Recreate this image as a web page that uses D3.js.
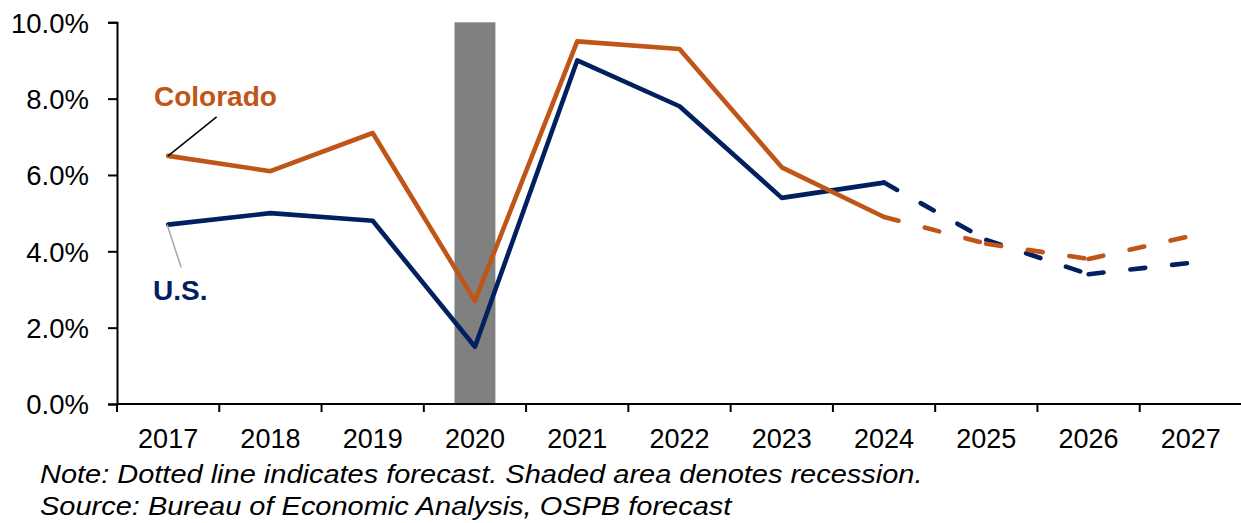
<!DOCTYPE html>
<html>
<head>
<meta charset="utf-8">
<script src="https://cdn.jsdelivr.net/npm/d3@7"></script>
<style>
  html, body { margin: 0; padding: 0; background: #ffffff; }
  svg { display: block; }
  text { font-family: "Liberation Sans", Arial, Helvetica, sans-serif; }
</style>
</head>
<body>
<svg id="chart" width="1241" height="523"></svg>
<script>
// Annual personal income growth, Colorado vs. U.S. (2024 onward is forecast)
const years = ["2017", "2018", "2019", "2020", "2021", "2022", "2023", "2024", "2025", "2026", "2027"];
const coloradoGrowth = [6.5, 6.1, 7.1, 2.7, 9.5, 9.3, 6.2, 4.9, 4.2, 3.8, 4.4];
const usGrowth = [4.7, 5.0, 4.8, 1.5, 9.0, 7.8, 5.4, 5.8, 4.3, 3.4, 3.7];
const yTickValues = [0, 2, 4, 6, 8, 10];
const forecastFrom = "2024";
const recessionYears = ["2020"];
const noteLines = [
  "Note: Dotted line indicates forecast. Shaded area denotes recession.",
  "Source: Bureau of Economic Analysis, OSPB forecast"
];

const COLORS = { colorado: "#BF5516", us: "#002060", recession: "#808080", axis: "#000000" };

const svg = d3.select("#chart");
const plot = { left: 117, right: 1242, top: 22.3, bottom: 404 };

const x = d3.scaleBand().domain(years).range([plot.left, plot.right]).padding(0);
const cx = d => x(d) + x.bandwidth() / 2;
const y = d3.scaleLinear().domain([0, 10]).range([plot.bottom, plot.top]);

// Recession shading
svg.append("g")
  .selectAll("rect")
  .data(recessionYears)
  .join("rect")
  .attr("x", d => x(d) + x.bandwidth() * 0.3)
  .attr("width", x.bandwidth() * 0.4)
  .attr("y", y(10))
  .attr("height", y(0) - y(10))
  .attr("fill", COLORS.recession);

// Y axis
const yAxis = svg.append("g")
  .attr("transform", `translate(${plot.left},0)`)
  .call(d3.axisLeft(y).tickValues(yTickValues).tickSize(9).tickPadding(19)
    .tickFormat(d => d.toFixed(1) + "%"));
yAxis.select(".domain").attr("stroke", COLORS.axis).attr("stroke-width", 2);
yAxis.selectAll(".tick line").attr("stroke", COLORS.axis).attr("stroke-width", 2);
yAxis.selectAll(".tick text")
  .attr("font-size", 27.5)
  .attr("fill", "#000")
  .attr("dy", "0.36em")
  .style("font-family", '"Liberation Sans", Arial, sans-serif');

// X axis: ticks sit on the category boundaries
const xAxisG = svg.append("g").attr("transform", `translate(0,${plot.bottom})`);
xAxisG.append("line")
  .attr("x1", plot.left).attr("x2", plot.right)
  .attr("stroke", COLORS.axis).attr("stroke-width", 2.2);
const boundaries = years.map(d => x(d)).concat([x(years[years.length - 1]) + x.bandwidth()]);
xAxisG.selectAll("line.tick")
  .data(boundaries)
  .join("line")
  .attr("class", "tick")
  .attr("x1", d => d).attr("x2", d => d)
  .attr("y1", 0).attr("y2", 8)
  .attr("stroke", COLORS.axis).attr("stroke-width", 2);
xAxisG.selectAll("text")
  .data(years)
  .join("text")
  .attr("x", d => cx(d))
  .attr("y", 44)
  .attr("text-anchor", "middle")
  .attr("font-size", 27)
  .attr("fill", "#000")
  .text(d => d);

// Series lines: solid for actuals, dashed per-segment for forecast
const line = d3.line().x(d => cx(d.year)).y(d => y(d.value));
const splitAt = years.indexOf(forecastFrom);

function drawSeries(values, color) {
  const pts = years.map((yr, i) => ({ year: yr, value: values[i] }));
  const g = svg.append("g");
  g.append("path")
    .datum(pts.slice(0, splitAt + 1))
    .attr("d", line)
    .attr("fill", "none")
    .attr("stroke", color)
    .attr("stroke-width", 4.6)
    .attr("stroke-linejoin", "round")
    .attr("stroke-linecap", "round");
  const segs = d3.pairs(pts.slice(splitAt));
  g.selectAll("path.fc")
    .data(segs)
    .join("path")
    .attr("class", "fc")
    .attr("d", line)
    .attr("fill", "none")
    .attr("stroke", color)
    .attr("stroke-width", 4.6)
    .attr("stroke-linecap", "round")
    .attr("stroke-dasharray", "15 27");
  return pts;
}

drawSeries(usGrowth, COLORS.us);
drawSeries(coloradoGrowth, COLORS.colorado);

// Series labels with leader lines
svg.append("line")
  .attr("x1", cx(years[0])).attr("y1", y(coloradoGrowth[0]))
  .attr("x2", cx(years[0]) + 48.5).attr("y2", y(coloradoGrowth[0]) - 39)
  .attr("stroke", "#000").attr("stroke-width", 1.5);
svg.append("line")
  .attr("x1", cx(years[0]) - 1).attr("y1", y(usGrowth[0]))
  .attr("x2", cx(years[0]) + 13).attr("y2", y(usGrowth[0]) + 43)
  .attr("stroke", "#A6A6A6").attr("stroke-width", 1.5);

svg.append("text")
  .attr("x", 154).attr("y", 106)
  .attr("font-size", 28).attr("font-weight", "bold")
  .attr("fill", COLORS.colorado)
  .text("Colorado");
svg.append("text")
  .attr("x", 153).attr("y", 300)
  .attr("font-size", 28).attr("font-weight", "bold")
  .attr("fill", COLORS.us)
  .text("U.S.");

// Footnotes (set slightly wide)
svg.append("g")
  .selectAll("text")
  .data(noteLines)
  .join("text")
  .attr("transform", (d, i) => `translate(40,${483 + i * 32}) scale(1.115,1)`)
  .attr("font-size", 26)
  .attr("font-style", "italic")
  .attr("fill", "#000")
  .text(d => d);
</script>
</body>
</html>
